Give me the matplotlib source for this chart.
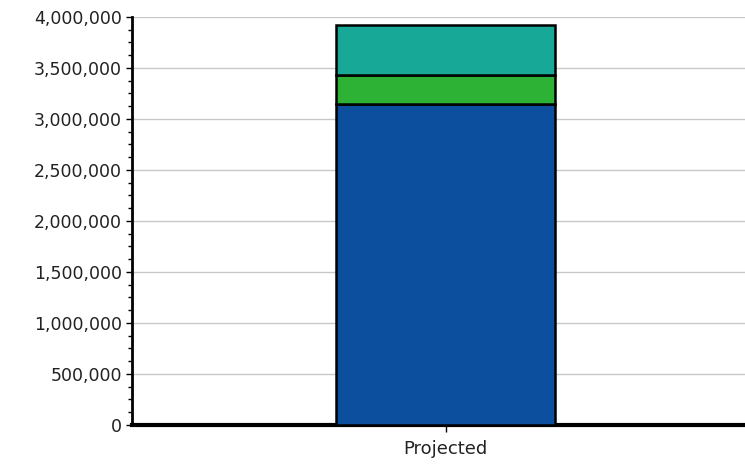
import matplotlib.pyplot as plt
from matplotlib.ticker import MultipleLocator, FuncFormatter

# data
categories = ["Projected"]
blue_vals = [3150000]
green_vals = [280000]
teal_vals = [490000]

fig = plt.figure(figsize=(7.45, 4.66), dpi=100)
ax = fig.add_axes([0.177, 0.088, 0.823, 0.876])

x = range(len(categories))
b1 = ax.bar(x, blue_vals, width=0.6, color="#0b4f9e", edgecolor="black", linewidth=1.8, zorder=3)
b2 = ax.bar(x, green_vals, bottom=blue_vals, width=0.6, color="#2eb236", edgecolor="black", linewidth=1.8, zorder=3)
bottom3 = [blue_vals[i] + green_vals[i] for i in range(len(categories))]
b3 = ax.bar(x, teal_vals, bottom=bottom3, width=0.6, color="#17a898", edgecolor="black", linewidth=1.8, zorder=3)

ax.set_ylim(0, 4000000)
ax.set_xlim(-0.86, 0.82)
ax.yaxis.set_major_locator(MultipleLocator(500000))
ax.yaxis.set_minor_locator(MultipleLocator(125000))
ax.yaxis.set_major_formatter(FuncFormatter(lambda v, p: "{:,.0f}".format(v)))
ax.set_xticks(list(x))
ax.set_xticklabels(categories)

ax.grid(axis="y", color="#c8c8c8", linewidth=1, zorder=0)
for s in ["top", "right"]:
    ax.spines[s].set_visible(False)
ax.spines["left"].set_linewidth(2)
ax.spines["bottom"].set_linewidth(3)
ax.tick_params(axis="y", which="major", length=4, width=1, labelsize=12.5, pad=3, labelcolor="#222222")
ax.tick_params(axis="y", which="minor", length=3, width=1)
ax.tick_params(axis="x", length=5, width=1, labelsize=13, pad=6, labelcolor="#222222")

plt.savefig("out.png", dpi=100)
